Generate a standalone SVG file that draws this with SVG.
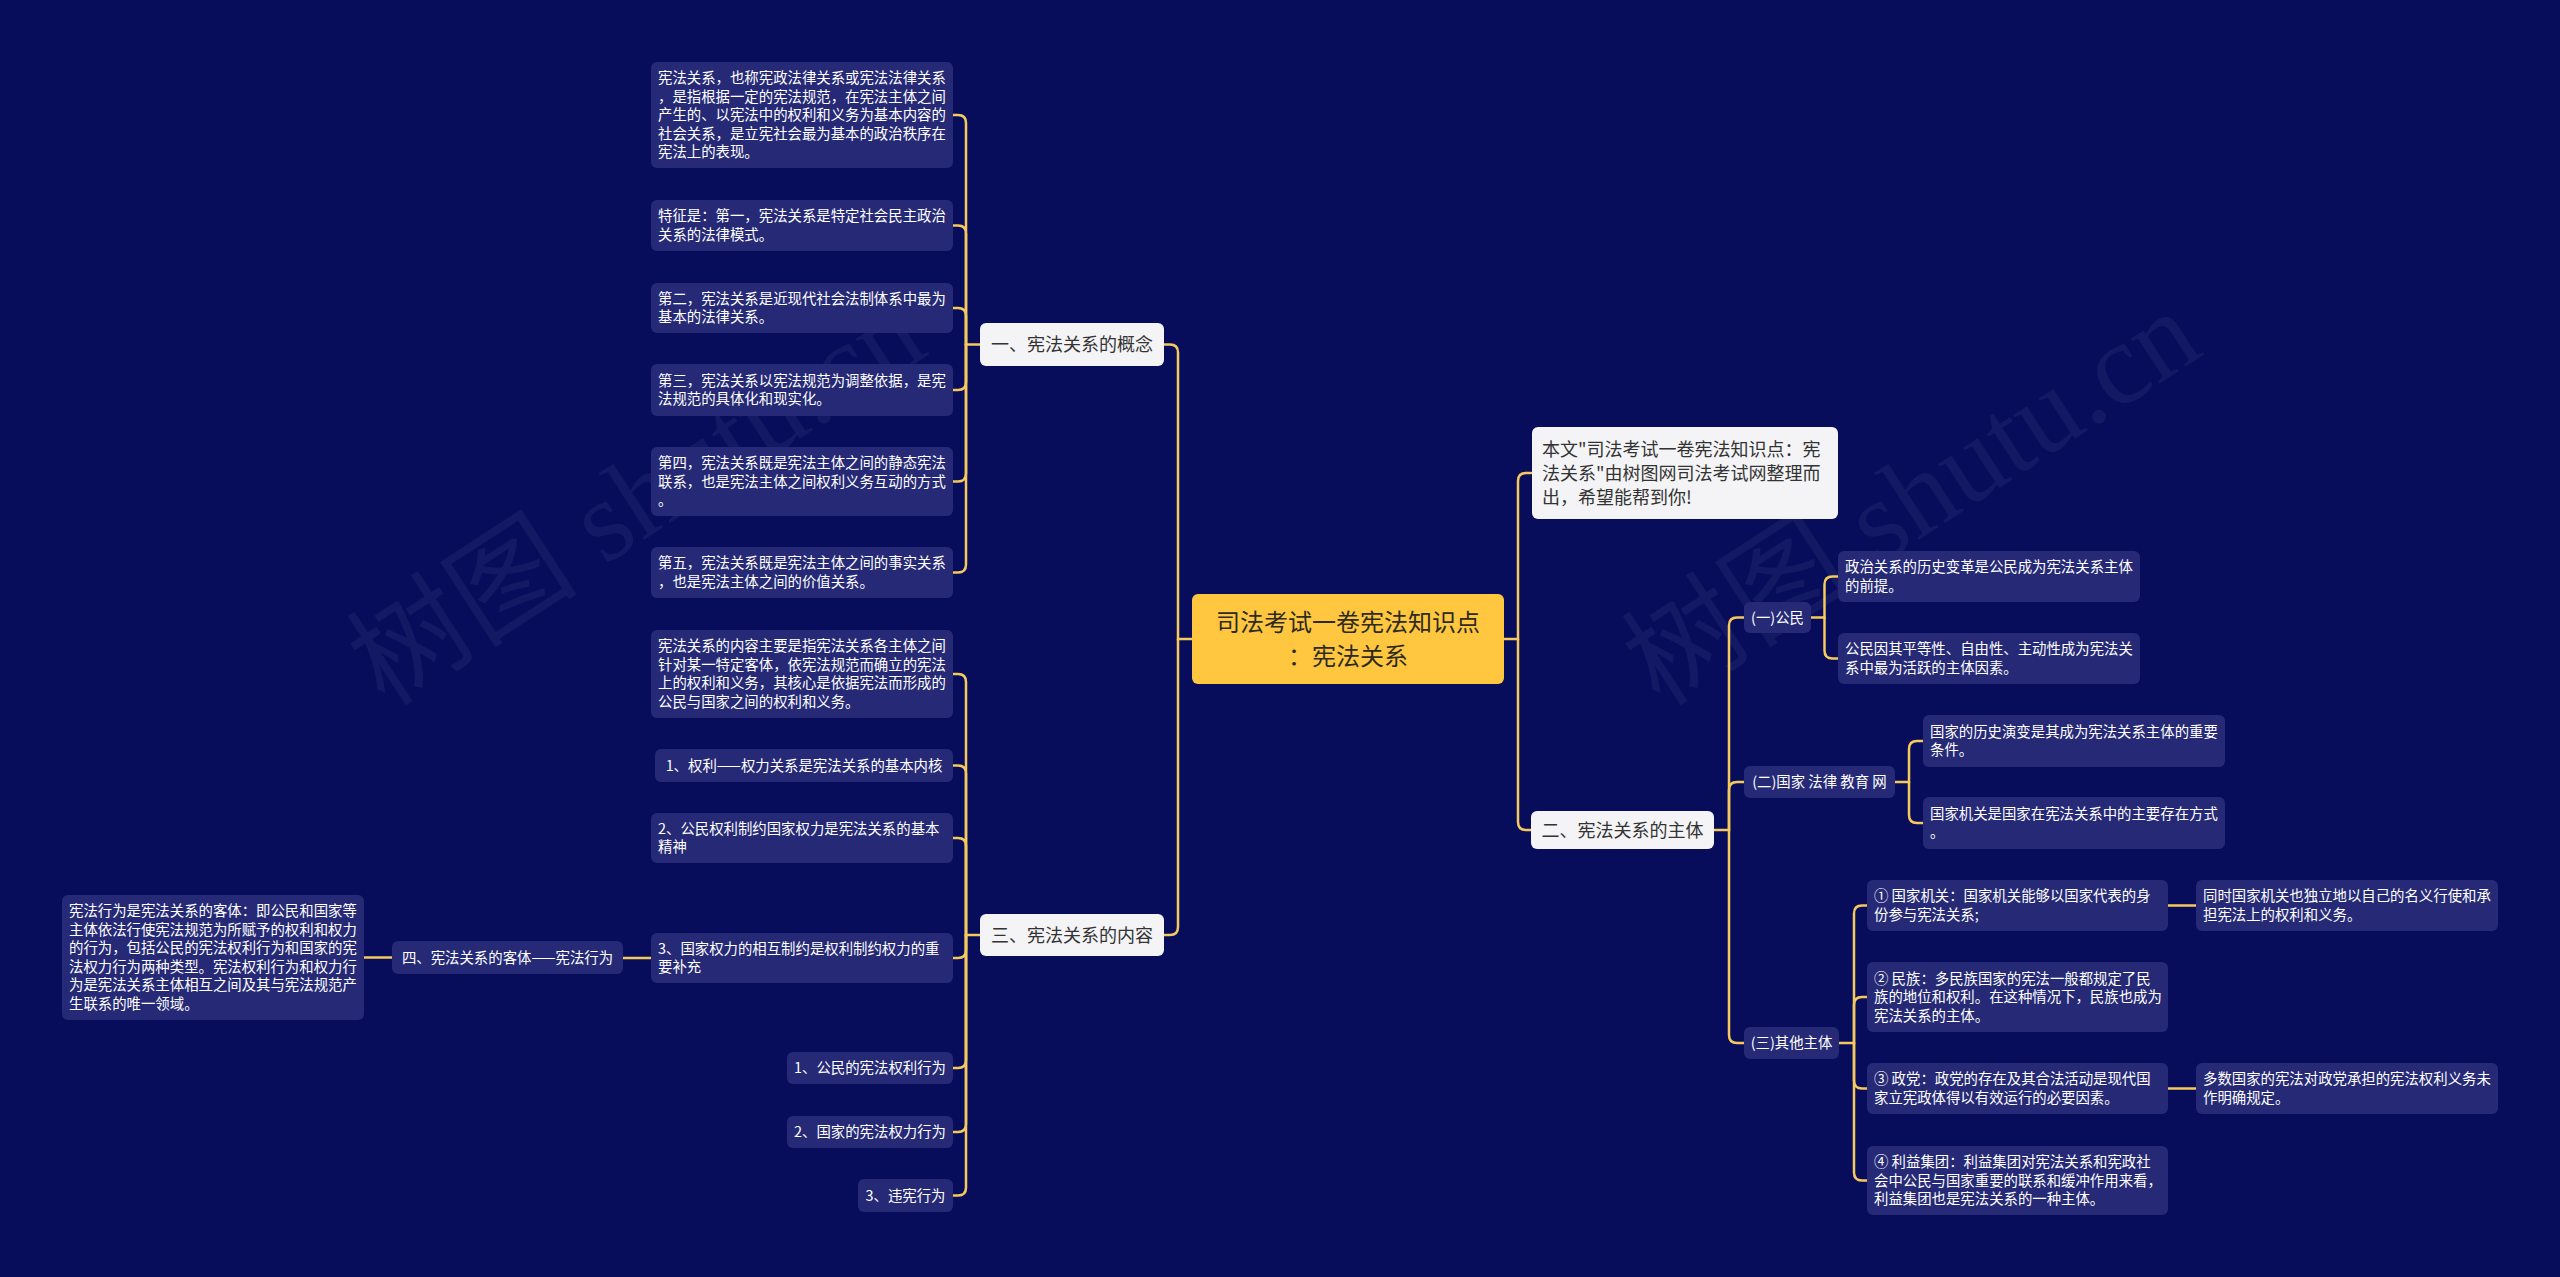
<svg xmlns="http://www.w3.org/2000/svg" width="2560" height="1277" viewBox="0 0 2560 1277">
<style>
.bg{fill:#070d5b}
.box{fill:#262a76}
.wbox{fill:#f4f4f6}
.root{fill:#fec73f}
.t{font-family:"Noto Sans CJK SC","Microsoft YaHei",sans-serif;font-size:14.4px;fill:#ffffff}
.tc{text-anchor:middle}
.l1{font-family:"Noto Sans CJK SC",sans-serif;font-size:18px;fill:#333333;text-anchor:middle}
.rt{font-family:"Noto Sans CJK SC",sans-serif;font-size:24px;fill:#2e2a1e;text-anchor:middle}
.bt{font-family:"Noto Sans CJK SC",sans-serif;font-size:18px;fill:#333333}
.wm{font-family:"Liberation Serif","Noto Sans CJK SC",serif;font-size:116px;fill:#ffffff;fill-opacity:0.05}
#connectors path{fill:none;stroke:#f5c95c;stroke-width:2.5;stroke-linecap:round}
</style>
<rect class="bg" x="0" y="0" width="2560" height="1277"/>
<g id="watermark">
<text class="wm" transform="translate(385,708) rotate(-33)">树图 shutu.cn</text>
<text class="wm" transform="translate(1660,708) rotate(-33)">树图 shutu.cn</text>
</g>
<g id="connectors">
<path d="M980 344.5 H966 V123 Q966 115 958 115 H953"/>
<path d="M966 344.5 V233.5 Q966 225.5 958 225.5 H953"/>
<path d="M966 344.5 V316 Q966 308 958 308 H953"/>
<path d="M966 344.5 V382 Q966 390 958 390 H953"/>
<path d="M966 344.5 V473.5 Q966 481.5 958 481.5 H953"/>
<path d="M966 344.5 V564.5 Q966 572.5 958 572.5 H953"/>
<path d="M980 935 H966 V682 Q966 674 958 674 H953"/>
<path d="M966 935 V773.5 Q966 765.5 958 765.5 H953"/>
<path d="M966 935 V846 Q966 838 958 838 H953"/>
<path d="M966 935 V950 Q966 958 958 958 H953"/>
<path d="M966 935 V1060 Q966 1068 958 1068 H953"/>
<path d="M966 935 V1124 Q966 1132 958 1132 H953"/>
<path d="M966 935 V1187.5 Q966 1195.5 958 1195.5 H953"/>
<path d="M651 958 H623"/>
<path d="M392 957.5 H364"/>
<path d="M1192 639 H1178 V352.5 Q1178 344.5 1170 344.5 H1164"/>
<path d="M1178 639 V927 Q1178 935 1170 935 H1164"/>
<path d="M1504 639 H1518 V481 Q1518 473 1526 473 H1531"/>
<path d="M1518 639 V822 Q1518 830 1526 830 H1531"/>
<path d="M1714 830 H1729 V625.5 Q1729 617.5 1737 617.5 H1744"/>
<path d="M1729 830 V790 Q1729 782 1737 782 H1744"/>
<path d="M1729 830 V1035 Q1729 1043 1737 1043 H1744"/>
<path d="M1811 617.5 H1824.5 V584.5 Q1824.5 576.5 1832.5 576.5 H1838"/>
<path d="M1824.5 617.5 V650.5 Q1824.5 658.5 1832.5 658.5 H1838"/>
<path d="M1895 782 H1909 V749 Q1909 741 1917 741 H1923"/>
<path d="M1909 782 V815 Q1909 823 1917 823 H1923"/>
<path d="M1839 1043 H1854 V913.5 Q1854 905.5 1862 905.5 H1867"/>
<path d="M1854 1043 V1005 Q1854 997 1862 997 H1867"/>
<path d="M1854 1043 V1080.5 Q1854 1088.5 1862 1088.5 H1867"/>
<path d="M1854 1043 V1172.5 Q1854 1180.5 1862 1180.5 H1867"/>
<path d="M2168 905.5 H2196"/>
<path d="M2168 1088.5 H2196"/>
</g>
<g id="root">
<rect class="root" x="1192" y="594" width="312" height="90" rx="6"/>
<text class="rt" x="1348" y="630.5">司法考试一卷宪法知识点</text>
<text class="rt" x="1348" y="664.5">：宪法关系</text>
</g>
<g id="n1">
<rect class="wbox" x="980" y="323" width="184" height="43" rx="6"/>
<text class="l1" x="1072" y="351">一、宪法关系的概念</text>
</g>
<g id="n1a">
<rect class="box" x="651" y="62" width="302" height="106" rx="6"/>
<text class="t" x="658" y="83">宪法关系，也称宪政法律关系或宪法法律关系</text>
<text class="t" x="658" y="101.5">，是指根据一定的宪法规范，在宪法主体之间</text>
<text class="t" x="658" y="120">产生的、以宪法中的权利和义务为基本内容的</text>
<text class="t" x="658" y="138.5">社会关系，是立宪社会最为基本的政治秩序在</text>
<text class="t" x="658" y="157">宪法上的表现。</text>
</g>
<g id="n1b">
<rect class="box" x="651" y="200" width="302" height="51" rx="6"/>
<text class="t" x="658" y="221.3">特征是：第一，宪法关系是特定社会民主政治</text>
<text class="t" x="658" y="239.8">关系的法律模式。</text>
</g>
<g id="n1c">
<rect class="box" x="651" y="283" width="302" height="50" rx="6"/>
<text class="t" x="658" y="303.8">第二，宪法关系是近现代社会法制体系中最为</text>
<text class="t" x="658" y="322.3">基本的法律关系。</text>
</g>
<g id="n1d">
<rect class="box" x="651" y="364" width="302" height="52" rx="6"/>
<text class="t" x="658" y="385.8">第三，宪法关系以宪法规范为调整依据，是宪</text>
<text class="t" x="658" y="404.3">法规范的具体化和现实化。</text>
</g>
<g id="n1e">
<rect class="box" x="651" y="447" width="302" height="69" rx="6"/>
<text class="t" x="658" y="468">第四，宪法关系既是宪法主体之间的静态宪法</text>
<text class="t" x="658" y="486.5">联系，也是宪法主体之间权利义务互动的方式</text>
<text class="t" x="658" y="505">。</text>
</g>
<g id="n1f">
<rect class="box" x="651" y="547" width="302" height="51" rx="6"/>
<text class="t" x="658" y="568.3">第五，宪法关系既是宪法主体之间的事实关系</text>
<text class="t" x="658" y="586.8">，也是宪法主体之间的价值关系。</text>
</g>
<g id="n3">
<rect class="wbox" x="980" y="914" width="184" height="42" rx="6"/>
<text class="l1" x="1072" y="941.5">三、宪法关系的内容</text>
</g>
<g id="n3a">
<rect class="box" x="651" y="630" width="302" height="88" rx="6"/>
<text class="t" x="658" y="651.3">宪法关系的内容主要是指宪法关系各主体之间</text>
<text class="t" x="658" y="669.8">针对某一特定客体，依宪法规范而确立的宪法</text>
<text class="t" x="658" y="688.3">上的权利和义务，其核心是依据宪法而形成的</text>
<text class="t" x="658" y="706.8">公民与国家之间的权利和义务。</text>
</g>
<g id="n3b">
<rect class="box" x="655" y="749" width="298" height="33" rx="6"/>
<text class="t tc" x="804" y="770.5">1、权利——权力关系是宪法关系的基本内核</text>
</g>
<g id="n3c">
<rect class="box" x="651" y="813" width="302" height="50" rx="6"/>
<text class="t" x="658" y="833.8">2、公民权利制约国家权力是宪法关系的基本</text>
<text class="t" x="658" y="852.3">精神</text>
</g>
<g id="n3d">
<rect class="box" x="651" y="933" width="302" height="50" rx="6"/>
<text class="t" x="658" y="953.8">3、国家权力的相互制约是权利制约权力的重</text>
<text class="t" x="658" y="972.3">要补充</text>
</g>
<g id="n4">
<rect class="box" x="392" y="941" width="231" height="33" rx="6"/>
<text class="t tc" x="507.5" y="962.5">四、宪法关系的客体——宪法行为</text>
</g>
<g id="n4a">
<rect class="box" x="62" y="895" width="302" height="125" rx="6"/>
<text class="t" x="69" y="916.3">宪法行为是宪法关系的客体：即公民和国家等</text>
<text class="t" x="69" y="934.8">主体依法行使宪法规范为所赋予的权利和权力</text>
<text class="t" x="69" y="953.3">的行为，包括公民的宪法权利行为和国家的宪</text>
<text class="t" x="69" y="971.8">法权力行为两种类型。宪法权利行为和权力行</text>
<text class="t" x="69" y="990.3">为是宪法关系主体相互之间及其与宪法规范产</text>
<text class="t" x="69" y="1008.8">生联系的唯一领域。</text>
</g>
<g id="n3e">
<rect class="box" x="787" y="1052" width="166" height="32" rx="6"/>
<text class="t tc" x="870" y="1073">1、公民的宪法权利行为</text>
</g>
<g id="n3f">
<rect class="box" x="787" y="1116" width="166" height="32" rx="6"/>
<text class="t tc" x="870" y="1137">2、国家的宪法权力行为</text>
</g>
<g id="n3g">
<rect class="box" x="858" y="1179" width="95" height="33" rx="6"/>
<text class="t tc" x="905.5" y="1200.5">3、违宪行为</text>
</g>
<g id="intro">
<rect class="wbox" x="1532" y="427" width="306" height="92" rx="6"/>
<text class="bt" x="1542" y="455.5">本文"司法考试一卷宪法知识点：宪</text>
<text class="bt" x="1542" y="479.5">法关系"由树图网司法考试网整理而</text>
<text class="bt" x="1542" y="503.5">出，希望能帮到你!</text>
</g>
<g id="n2">
<rect class="wbox" x="1531" y="811" width="183" height="38" rx="6"/>
<text class="l1" x="1622.5" y="836.5">二、宪法关系的主体</text>
</g>
<g id="n2a">
<rect class="box" x="1744" y="602" width="67" height="31" rx="6"/>
<text class="t tc" x="1777.5" y="622.5">(一)公民</text>
</g>
<g id="n2a1">
<rect class="box" x="1838" y="551" width="302" height="51" rx="6"/>
<text class="t" x="1845" y="572.3">政治关系的历史变革是公民成为宪法关系主体</text>
<text class="t" x="1845" y="590.8">的前提。</text>
</g>
<g id="n2a2">
<rect class="box" x="1838" y="633" width="302" height="51" rx="6"/>
<text class="t" x="1845" y="654.3">公民因其平等性、自由性、主动性成为宪法关</text>
<text class="t" x="1845" y="672.8">系中最为活跃的主体因素。</text>
</g>
<g id="n2b">
<rect class="box" x="1744" y="766" width="151" height="32" rx="6"/>
<text class="t tc" x="1819.5" y="787">(二)国家 法律 教育 网</text>
</g>
<g id="n2b1">
<rect class="box" x="1923" y="715" width="302" height="52" rx="6"/>
<text class="t" x="1930" y="736.8">国家的历史演变是其成为宪法关系主体的重要</text>
<text class="t" x="1930" y="755.3">条件。</text>
</g>
<g id="n2b2">
<rect class="box" x="1923" y="797" width="302" height="52" rx="6"/>
<text class="t" x="1930" y="818.8">国家机关是国家在宪法关系中的主要存在方式</text>
<text class="t" x="1930" y="837.3">。</text>
</g>
<g id="n2c">
<rect class="box" x="1744" y="1027" width="95" height="32" rx="6"/>
<text class="t tc" x="1791.5" y="1048">(三)其他主体</text>
</g>
<g id="n2c1">
<rect class="box" x="1867" y="880" width="301" height="51" rx="6"/>
<text class="t" x="1874" y="901.3">① 国家机关：国家机关能够以国家代表的身</text>
<text class="t" x="1874" y="919.8">份参与宪法关系;</text>
</g>
<g id="n2c1r">
<rect class="box" x="2196" y="880" width="302" height="51" rx="6"/>
<text class="t" x="2203" y="901.3">同时国家机关也独立地以自己的名义行使和承</text>
<text class="t" x="2203" y="919.8">担宪法上的权利和义务。</text>
</g>
<g id="n2c2">
<rect class="box" x="1867" y="962" width="301" height="70" rx="6"/>
<text class="t" x="1874" y="983.5">② 民族：多民族国家的宪法一般都规定了民</text>
<text class="t" x="1874" y="1002">族的地位和权利。在这种情况下，民族也成为</text>
<text class="t" x="1874" y="1020.5">宪法关系的主体。</text>
</g>
<g id="n2c3">
<rect class="box" x="1867" y="1063" width="301" height="51" rx="6"/>
<text class="t" x="1874" y="1084.3">③ 政党：政党的存在及其合法活动是现代国</text>
<text class="t" x="1874" y="1102.8">家立宪政体得以有效运行的必要因素。</text>
</g>
<g id="n2c3r">
<rect class="box" x="2196" y="1063" width="302" height="51" rx="6"/>
<text class="t" x="2203" y="1084.3">多数国家的宪法对政党承担的宪法权利义务未</text>
<text class="t" x="2203" y="1102.8">作明确规定。</text>
</g>
<g id="n2c4">
<rect class="box" x="1867" y="1146" width="301" height="69" rx="6"/>
<text class="t" x="1874" y="1167">④ 利益集团：利益集团对宪法关系和宪政社</text>
<text class="t" x="1874" y="1185.5">会中公民与国家重要的联系和缓冲作用来看，</text>
<text class="t" x="1874" y="1204">利益集团也是宪法关系的一种主体。</text>
</g>
</svg>
